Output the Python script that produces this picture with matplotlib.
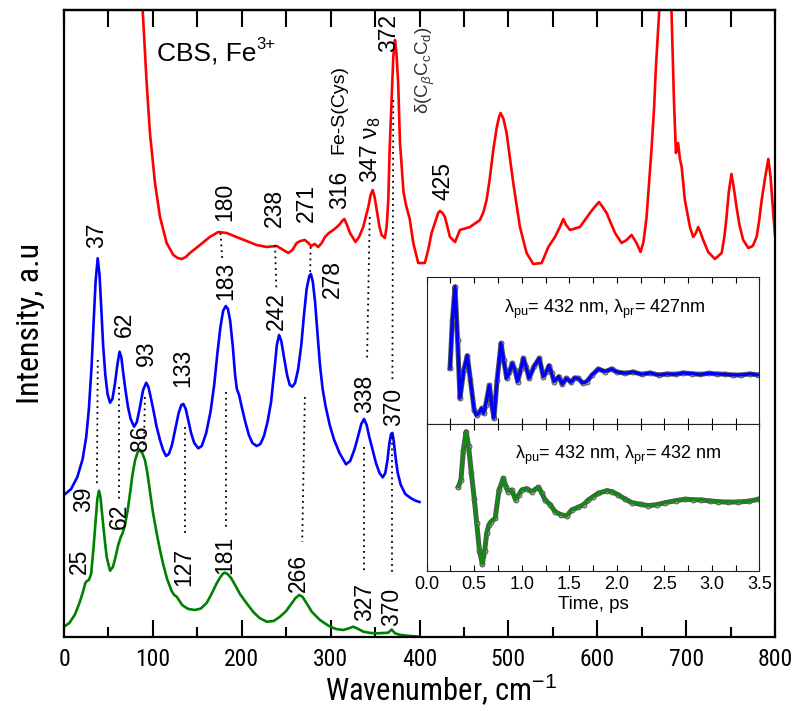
import matplotlib
matplotlib.use("Agg")
import matplotlib.pyplot as plt
from matplotlib import font_manager as fm

names = {f.name for f in fm.fontManager.ttflist}
NARROW = None
for cand in ['Liberation Sans Narrow', 'Arial Narrow', 'Roboto Condensed', 'Open Sans Condensed']:
    if cand in names:
        NARROW = cand
        break
REG = 'Liberation Sans'
plt.rcParams['font.family'] = [REG, 'DejaVu Sans']
plt.rcParams['mathtext.fontset'] = 'custom'
plt.rcParams['mathtext.rm'] = REG
plt.rcParams['mathtext.it'] = REG + ':italic'
plt.rcParams['mathtext.bf'] = REG + ':bold'

# ---------------- data ----------------
# Red: measured spectrum (wavenumber, intensity a.u.)
red_x = [85, 88.5, 93, 96.7, 102.4, 108, 115.5, 123, 128, 132.4, 137, 141.7, 153, 164, 173.6, 183,
         194, 205.5, 216.8, 228, 239.3, 245, 252.4, 257, 261.8, 266, 271, 275, 278, 282, 286, 290,
         293.6, 298, 303, 307, 310.5, 313, 315.4, 318.5, 321.8, 328, 332, 336.7, 339.5, 342.4, 345,
         347.3, 349.5, 352.5, 355, 357.4, 361, 363, 364.9, 366.5, 368.6, 370.5, 372.4, 374, 376,
         378, 380, 382, 384.8, 389, 393, 398.6, 406, 410, 413.6, 418, 421, 423, 426, 428.6, 434.3,
         440, 445.5, 456.8, 468, 472, 475.5, 479, 483, 487, 489.5, 491.3, 494.5, 498, 505.5, 513,
         520.5, 528, 537.5, 545, 552.4, 558, 561.8, 565, 569.3, 580.5, 591.8, 597, 602, 606,
         610.5, 620, 627.4, 633, 638.6, 644.2, 648.7, 652, 655.5, 658, 661, 664, 666, 669.8, 672,
         676, 680, 683.5, 686.3, 688.5, 691, 693, 695, 698.6, 704.3, 708, 711, 713.6, 716,
         719.2, 724.8, 732.4, 740, 743, 745.5, 748, 751, 753.5, 756.7, 760, 764.2, 770, 775,
         779.3, 782, 785, 789, 792.5, 795, 798, 800]
red_y = [687, 627, 554, 504, 454, 420, 394, 382, 379, 378, 380, 384, 392, 400, 405, 404,
         400, 396, 392, 390, 391, 388, 384, 387, 394, 396, 397, 394, 391, 393, 390, 394,
         400, 404, 407, 410, 413, 416, 418, 412, 404, 395, 400, 410, 420, 430, 442,
         447, 440, 424, 410, 402, 399, 410, 437, 490, 537, 580, 597, 585, 554,
         495, 470, 445, 432, 418, 394, 374, 374, 388, 404, 416, 424, 426, 424, 420, 400,
         395, 407, 410, 417, 425, 437, 458, 487, 510, 520, 524, 518, 504, 454, 410,
         384, 373, 374, 390, 400, 410, 418, 412, 407, 410, 424, 430, 435, 430,
         424, 404, 394, 397, 402, 394, 385, 395, 420, 450, 487, 530, 570, 627, 697,
         937, 697, 627, 537, 484, 494, 478, 470, 437, 410, 400, 404, 410, 405,
         397, 385, 378, 384, 400, 420, 445, 463, 450, 430, 412, 397, 389, 391,
         400, 415, 437, 460, 478, 460, 424, 402]

# Blue: calculated spectrum
blue_x = [0, 8, 15, 21, 25, 28, 31, 33.5, 35.5, 37.9, 40, 42, 44, 46.5, 49, 51.8, 54.5, 57.4, 60,
          62.5, 64.5, 66.5, 69, 72, 75, 78.8, 82, 85.5, 89, 92.5, 95, 98, 101, 104, 108, 111.5,
          114.8, 118, 121.5, 125, 129, 132, 134.3, 137, 140, 143, 146.5, 151.1, 155, 160, 165,
          169, 172.5, 176, 179, 182, 184.5, 187, 190, 192.5, 194.5, 197, 200, 204, 208, 212,
          216.8, 221, 225, 229, 233, 236.5, 239.5, 242, 244.5, 247.5, 251, 254, 256.9, 260,
          263.5, 267, 270, 273, 276, 277.8, 280, 282.5, 285, 288, 291, 294.5, 299, 304, 310,
          317.3, 322, 327, 331, 334.5, 337.6, 340.5, 343.5, 347, 351, 355, 358.6, 361.5, 364,
          366, 368, 369.5, 371, 373, 375.5, 379, 384, 390, 395, 400]
blue_y = [142, 148, 160, 178, 200, 228, 270, 318, 355, 378.7, 362, 328, 292, 262, 243, 234.3, 238,
          253.7, 272, 285.3, 280, 265, 248, 230, 218, 210.3, 215, 230.3, 247, 254.3, 250, 238, 225,
          211, 197, 187, 181, 183, 192, 207, 224, 232, 233, 228, 216, 204, 194, 188.7, 191, 204,
          226, 252, 283, 310, 326, 331, 328, 316, 290, 262, 248, 242, 230, 215, 202, 194, 191,
          193, 201, 215, 235, 265, 292, 302, 296, 280, 262, 252, 250.3, 254, 268, 292, 322,
          348, 361, 363, 355, 335, 306, 272, 248, 230, 212, 197, 184, 172.7, 176, 188, 201, 213,
          218, 212, 200, 188, 174, 164, 159.7, 164, 177, 193, 203, 204, 196, 180, 164, 152,
          143, 139, 136.5, 135]

# Green: calculated spectrum
green_x = [0, 6, 12, 17, 21, 24, 25.8, 28, 30.5, 33, 35.5, 37.5, 39.4, 41, 43, 45.5, 48, 51.8, 55,
           58, 61, 63.5, 66, 68.6, 71.5, 74.3, 77, 80, 83, 85.5, 88, 91.1, 94, 96.8, 100, 104.3,
           108, 111.8, 116, 121.1, 124, 126.8, 130, 133, 136.1, 140, 147.4, 154, 160.5, 166,
           171.8, 176, 179, 181.2, 184, 188, 192.5, 198, 205.5, 213, 220, 228, 236, 243, 250,
           256.2, 260.5, 264.8, 268.5, 273, 279, 288, 298, 306, 314.3, 320, 325.5, 330, 336.8,
           345, 351.8, 360, 364.9, 368.7, 372.4, 378, 385.6, 400]
green_y = [10.3, 14, 22, 33, 44, 54, 56, 57, 63, 87, 115, 138, 146.3, 140, 122, 100, 80, 66.3, 70,
           80, 92, 99, 104, 112, 126, 143.7, 162, 177, 185, 187, 184, 177, 163, 145, 125, 103.7,
           87, 72, 58, 46, 42, 40.3, 36, 32, 30, 28, 27, 28.5, 34, 43,
           53.7, 60, 63.5, 64.3, 63, 59, 52, 43, 33.7, 25, 19, 15.3, 16, 20.3, 26,
           33.7, 39, 42, 40, 33.7, 25, 17, 11, 8, 7, 8.5, 10.3, 8.5, 5.3,
           4, 3.7, 4, 4.3, 7.5, 3.7, 2.2, 1.3, 0.3]

# Inset: time traces (ps, signal a.u.)
t_blue = [0.245, 0.27, 0.298, 0.325, 0.35, 0.39, 0.427, 0.46, 0.50, 0.526, 0.555, 0.579, 0.60,
          0.62, 0.659, 0.685, 0.708, 0.74, 0.782, 0.81, 0.842, 0.87, 0.90, 0.93, 0.957, 0.99,
          1.017, 1.047, 1.077, 1.13, 1.185, 1.227, 1.257, 1.287, 1.315, 1.34, 1.39, 1.427, 1.47,
          1.52, 1.555, 1.595, 1.64, 1.684, 1.74, 1.806, 1.876, 1.946, 2.0, 2.087, 2.17, 2.262,
          2.35, 2.44, 2.53, 2.62, 2.70, 2.79, 2.88, 2.97, 3.05, 3.14, 3.22, 3.31, 3.40, 3.49]
s_blue = [56, 104, 137.6, 84, 26, 54, 68.6, 44, 14, 9, 12, 16, 11,
          19, 39, 19, 6, 44, 81, 64, 46, 52, 61, 54, 42.6, 55,
          66, 57, 46, 58, 66, 47.6, 52, 58.6, 51, 42.6, 47.6, 40, 46,
          42, 46.3, 46, 41.3, 42.6, 49.3, 55.3, 52.6, 55.3, 52.3, 51, 52.3, 50,
          51.3, 49.3, 50.3, 50, 51.3, 50.6, 49.8, 51, 50.3, 50, 49.3, 49.3, 50.3, 49.3]
t_green = [0.333, 0.36, 0.385, 0.414, 0.44, 0.47, 0.50, 0.526, 0.555, 0.585, 0.61, 0.631, 0.655,
           0.677, 0.72, 0.761, 0.806, 0.835, 0.859, 0.894, 0.936, 0.97, 1.0, 1.05, 1.105, 1.175,
           1.21, 1.245, 1.30, 1.35, 1.41, 1.473, 1.525, 1.595, 1.65, 1.70, 1.75, 1.806, 1.894,
           1.95, 2.016, 2.09, 2.157, 2.25, 2.332, 2.42, 2.51, 2.62, 2.718, 2.80, 2.89, 2.98,
           3.068, 3.17, 3.28, 3.39, 3.49]
s_green = [84, 90.7, 120, 139, 125, 97.4, 72, 47.4, 20, 6.7, 20, 37.4, 46,
           49, 52.4, 80.7, 92.4, 84, 79, 80.7, 70.7, 76, 80.7, 82, 79, 83.4,
           78, 70.7, 66, 59, 56, 54.7, 60.7, 63.4, 66, 70.7, 74, 77.4, 80,
           79, 75.7, 71.5, 68, 66.4, 65, 66, 68, 70, 71.4, 71, 70.7, 69.7,
           69, 68.5, 68.7, 69.5, 71.4]

# peak labels: (text, x, y)
red_labels = [("180", 181.1, 435), ("238", 236.3, 429), ("271", 273.1, 434), ("316", 310.5, 447),
              ("425", 426.1, 456)]
blue_labels = [("37", 37.1, 402), ("62", 67.8, 313), ("93", 93.0, 284), ("133", 133.6, 269),
               ("183", 181.9, 356), ("242", 238.5, 326), ("278", 301.5, 358), ("338", 337.9, 243),
               ("370", 371.0, 230)]
green_labels = [("25", 16.9, 76), ("39", 22.2, 138), ("62", 61.9, 121), ("86", 86.3, 199),
                ("127", 135.0, 70), ("181", 180.8, 82), ("266", 264.1, 64), ("327", 338.7, 35),
                ("370", 369.1, 30)]
# dotted connector lines: (x0, y0, x1, y1)
connectors = [(176, 404, 178, 379), (237.4, 392, 239, 347), (277.5, 390, 277, 364),
              (344, 420, 341, 277), (370.5, 537, 369.5, 257), (38, 277, 37, 150),
              (62.3, 250, 62.3, 137), (91, 240, 90, 190), (136, 210, 136, 104),
              (182, 245, 182, 110), (271, 240, 268, 95), (337.5, 190, 337.5, 64),
              (369.4, 200, 369.4, 64)]

x_ticks = list(range(0, 801, 100))

# ---------------- figure ----------------
fig = plt.figure(figsize=(8, 7.12), dpi=100)
ax = fig.add_axes([0.08, 0.10534, 0.88875, 0.88062])
ax.plot(red_x, red_y, color='#ff0000', lw=1.9, solid_joinstyle='round')
ax.plot(blue_x, blue_y, color='#0000ff', lw=1.9, solid_joinstyle='round')
ax.plot(green_x, green_y, color='#008000', lw=1.9, solid_joinstyle='round')
for x0, y0, x1, y1 in connectors:
    ax.plot([x0, x1], [y0, y1], color='black', lw=1.3, ls=(0, (1, 2.2)))

ax.set_xlim(0, 800)
ax.set_ylim(0, 627)
ax.set_yticks([])
ax.set_xticks(x_ticks)
ax.set_xticks(list(range(50, 800, 100)), minor=True)
tick_fs = 17 if NARROW else 15.5
ax.tick_params(axis='x', which='major', direction='in', length=12, width=1.5, pad=8,
               labelsize=tick_fs)
ax.tick_params(axis='x', which='minor', direction='in', length=7, width=1.5)
lab_family = NARROW if NARROW else REG
for lab in ax.get_xticklabels():
    lab.set_fontfamily(lab_family)
sec = ax.secondary_xaxis('top')
sec.set_xticks(list(range(0, 801, 50)))
sec.tick_params(direction='in', length=12, width=1.5, labeltop=False)
for s in list(ax.spines.values()) + list(sec.spines.values()):
    s.set_linewidth(1.6)

xl_fs = 22 if NARROW else 20
ax.set_xlabel("Wavenumber, cm$^{-1}$", fontsize=xl_fs, family=lab_family, labelpad=2)
ax.xaxis.set_label_coords(0.53, -0.055)
ax.set_ylabel("Intensity, a.u", fontsize=xl_fs + 1, family=lab_family, labelpad=14)

lab_kw = dict(rotation=90, ha='center', va='center', fontsize=16.5)
for txt, x, y in red_labels + blue_labels + green_labels:
    ax.text(x, y, txt, **lab_kw)
ax.text(345.1, 487, "347 $\\mathrm{\\nu}_{8}$", rotation=90, ha='center', va='center', fontsize=16.5)
ax.text(364.9, 604, "372", **lab_kw)
ax.text(309.8, 527, "Fe-S(Cys)", rotation=90, ha='center', va='center', fontsize=14)
ax.text(406.2, 567, "δ(C$_{\\beta}$C$_{\\mathrm{c}}$C$_{\\mathrm{d}}$)", rotation=90, ha='center',
        va='center', fontsize=13.5, color='#333333')
cbs = ax.text(105, 583, "CBS, Fe", ha='left', va='center', fontsize=19)
ax.annotate("3+", xy=(1.0, 0.88), xycoords=cbs, ha='left', va='center', fontsize=12)

# ---------------- inset ----------------
axt = fig.add_axes([0.5334, 0.4041, 0.4158, 0.2065])
axb = fig.add_axes([0.5334, 0.1985, 0.4158, 0.2056])
for a, t, s, c in [(axt, t_blue, s_blue, '#0000ff'), (axb, t_green, s_green, '#138a13')]:
    a.set_facecolor('white')
    a.plot(t, s, color='#555555', lw=3.6, zorder=1, solid_joinstyle='round')
    a.plot(t, s, ls='none', marker='o', ms=3.6, mfc='#aaaaaa', mec='#444444', mew=0.6, zorder=2)
    a.plot(t, s, color=c, lw=2.3, zorder=3, solid_joinstyle='round')
    a.set_xlim(0, 3.5)
    a.set_yticks([])
    a.set_xticks([0.0, 0.5, 1.0, 1.5, 2.0, 2.5, 3.0, 3.5])
    a.set_xticks([0.25, 0.75, 1.25, 1.75, 2.25, 2.75, 3.25], minor=True)
    a.tick_params(axis='x', which='both', direction='in', length=4, width=0.8, top=True,
                  labelsize=13, pad=4)
    for sp in a.spines.values():
        sp.set_linewidth(0.8)
        sp.set_color('#222222')
axt.set_ylim(0, 147)
axb.set_ylim(0, 146.4)
axt.tick_params(labelbottom=False)
axb.set_xlabel("Time, ps", fontsize=13.5, labelpad=2)
axt.text(0.536, 0.778, "λ$_{\\mathrm{pu}}$= 432 nm, λ$_{\\mathrm{pr}}$= 427nm", transform=axt.transAxes,
         ha='center', va='center', fontsize=13)
axb.text(0.575, 0.79, "λ$_{\\mathrm{pu}}$= 432 nm, λ$_{\\mathrm{pr}}$= 432 nm", transform=axb.transAxes,
         ha='center', va='center', fontsize=13)

fig.savefig("out.png", dpi=100)
